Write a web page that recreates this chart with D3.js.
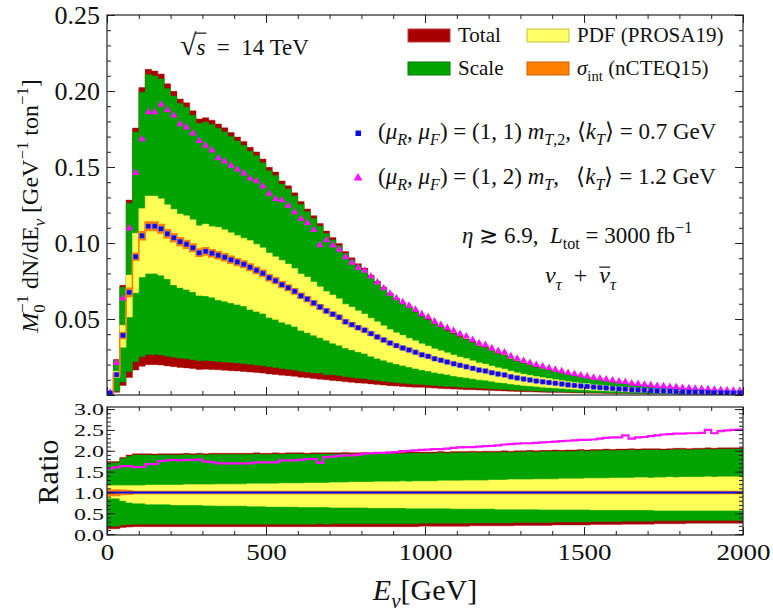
<!DOCTYPE html>
<html><head><meta charset="utf-8">
<script src="https://cdn.jsdelivr.net/npm/d3@7"></script>
<style>
body{margin:0;background:#fff;}
svg text{font-family:'Liberation Serif','Times New Roman',serif !important;fill:#111;}
</style></head>
<body>
<script>
// ---------- DATA ----------
const binEdges = [0,20,40,60,80,100,120,140,160,180,200,220,240,260,280,300,320,340,360,380,
400,420,440,460,480,500,520,540,560,580,600,620,640,660,680,700,720,740,760,780,
800,820,840,860,880,900,920,940,960,980,1000,1020,1040,1060,1080,1100,1120,1140,1160,1180,
1200,1220,1240,1260,1280,1300,1320,1340,1360,1380,1400,1420,1440,1460,1480,1500,1520,1540,1560,1580,
1600,1620,1640,1660,1680,1700,1720,1740,1760,1780,1800,1820,1840,1860,1880,1900,1920,1940,1960,1980,2000];

// central prediction (mu_R,mu_F)=(1,1) m_T,2, <kT>=0.7 GeV  [GeV^-1 ton^-1]
const central = [0.0012,0.0134,0.0392,0.0675,0.0910,0.1048,0.1110,0.1110,0.1094,0.1061,
0.1035,0.1009,0.0991,0.0969,0.0936,0.0945,0.0932,0.0919,0.0906,0.0890,
0.0875,0.0860,0.0840,0.0820,0.0800,0.0772,0.0752,0.0726,0.0706,0.0682,
0.0653,0.0631,0.0605,0.0579,0.0553,0.0531,0.0511,0.0482,0.0463,0.0443,
0.0426,0.0404,0.0382,0.0362,0.0342,0.0325,0.0309,0.0296,0.0281,0.0265,
0.0254,0.0239,0.0228,0.0217,0.0206,0.0195,0.0186,0.0175,0.0164,0.0158,
0.0147,0.0138,0.0132,0.0120,0.0112,0.0105,0.0099,0.0092,0.0087,0.0082,
0.0077,0.0072,0.0067,0.0063,0.0059,0.0056,0.0052,0.0049,0.0046,0.0043,
0.0040,0.0038,0.0035,0.0033,0.0031,0.0029,0.0027,0.0026,0.0024,0.0023,
0.0021,0.0020,0.0019,0.0018,0.0017,0.0016,0.0015,0.0014,0.0013,0.0013];

// ratios to central
const ratioTotUp = [1.74,1.74,1.84,1.90,1.93,1.93,1.93,1.92,1.93,1.93,
1.93,1.93,1.94,1.93,1.94,1.93,1.94,1.94,1.94,1.94,
1.94,1.94,1.94,1.95,1.94,1.94,1.95,1.94,1.95,1.95,
1.95,1.94,1.95,1.95,1.95,1.95,1.95,1.96,1.95,1.95,
1.96,1.95,1.96,1.96,1.96,1.96,1.96,1.97,1.97,1.97,
1.97,1.97,1.98,1.97,1.98,1.98,1.98,1.99,1.98,1.99,
1.99,1.99,2.00,1.99,2.00,2.00,2.01,2.00,2.01,2.01,
2.02,2.01,2.02,2.02,2.03,2.02,2.03,2.03,2.04,2.03,
2.04,2.04,2.05,2.04,2.05,2.05,2.05,2.04,2.05,2.06,
2.06,2.05,2.06,2.06,2.07,2.06,2.07,2.07,2.07,2.07];
const ratioScaleUp = [1.71,1.71,1.81,1.87,1.90,1.90,1.90,1.89,1.90,1.90,
1.90,1.90,1.91,1.90,1.91,1.90,1.91,1.91,1.91,1.91,
1.91,1.91,1.91,1.92,1.91,1.91,1.92,1.91,1.92,1.92,
1.92,1.91,1.92,1.92,1.92,1.92,1.92,1.93,1.92,1.92,
1.93,1.92,1.93,1.93,1.93,1.93,1.93,1.94,1.94,1.94,
1.94,1.94,1.95,1.94,1.95,1.95,1.95,1.96,1.95,1.96,
1.96,1.96,1.97,1.96,1.97,1.97,1.98,1.97,1.98,1.98,
1.99,1.98,1.99,1.99,2.00,1.99,2.00,2.00,2.01,2.00,
2.01,2.01,2.02,2.01,2.02,2.02,2.02,2.01,2.02,2.03,
2.03,2.02,2.03,2.03,2.04,2.03,2.04,2.04,2.04,2.04];
const ratioPdfUp = [1.17,1.17,1.17,1.17,1.17,1.17,1.18,1.18,1.18,1.18,
1.18,1.18,1.19,1.19,1.19,1.19,1.19,1.20,1.20,1.20,
1.20,1.20,1.21,1.21,1.21,1.21,1.21,1.22,1.22,1.22,
1.22,1.23,1.23,1.23,1.23,1.24,1.24,1.24,1.25,1.25,
1.25,1.25,1.26,1.26,1.26,1.26,1.27,1.26,1.27,1.27,
1.27,1.27,1.28,1.28,1.28,1.28,1.29,1.29,1.29,1.29,
1.30,1.30,1.30,1.31,1.31,1.31,1.31,1.32,1.32,1.32,
1.32,1.33,1.33,1.33,1.33,1.34,1.34,1.34,1.34,1.35,
1.35,1.35,1.35,1.36,1.36,1.35,1.36,1.36,1.37,1.36,
1.37,1.37,1.37,1.37,1.38,1.37,1.38,1.38,1.38,1.38];
const ratioIntUp = [1.06,1.06,1.05,1.04,1.025,1.025,1.025,1.025,1.025,1.025,
1.025,1.025,1.025,1.025,1.025,1.025,1.025,1.025,1.025,1.025,
1.025,1.025,1.025,1.025,1.025,1.025,1.025,1.025,1.025,1.025,
1.025,1.025,1.025,1.025,1.025,1.025,1.025,1.025,1.025,1.025,
1.025,1.025,1.025,1.025,1.025,1.025,1.025,1.025,1.025,1.025,
1.025,1.025,1.025,1.025,1.025,1.025,1.025,1.025,1.025,1.025,
1.025,1.025,1.025,1.025,1.025,1.025,1.025,1.025,1.025,1.025,
1.025,1.025,1.025,1.025,1.025,1.025,1.025,1.025,1.025,1.025,
1.025,1.025,1.025,1.025,1.025,1.025,1.025,1.025,1.025,1.025,
1.025,1.025,1.025,1.025,1.025,1.025,1.025,1.025,1.025,1.025];
const ratioIntDn = [0.93,0.93,0.95,0.96,0.975,0.975,0.975,0.975,0.975,0.975,
0.975,0.975,0.975,0.975,0.975,0.975,0.975,0.975,0.975,0.975,
0.975,0.975,0.975,0.975,0.975,0.975,0.975,0.975,0.975,0.975,
0.975,0.975,0.975,0.975,0.975,0.975,0.975,0.975,0.975,0.975,
0.975,0.975,0.975,0.975,0.975,0.975,0.975,0.975,0.975,0.975,
0.975,0.975,0.975,0.975,0.975,0.975,0.975,0.975,0.975,0.975,
0.975,0.975,0.975,0.975,0.975,0.975,0.975,0.975,0.975,0.975,
0.975,0.975,0.975,0.975,0.975,0.975,0.975,0.975,0.975,0.975,
0.975,0.975,0.975,0.975,0.975,0.975,0.975,0.975,0.975,0.975,
0.975,0.975,0.975,0.975,0.975,0.975,0.975,0.975,0.975,0.975];
const ratioPdfDn = [0.86,0.86,0.80,0.76,0.74,0.74,0.72,0.72,0.72,0.72,
0.70,0.70,0.70,0.70,0.70,0.69,0.69,0.68,0.68,0.68,
0.68,0.68,0.67,0.67,0.67,0.66,0.66,0.66,0.66,0.66,
0.65,0.65,0.65,0.65,0.65,0.64,0.64,0.64,0.64,0.64,
0.64,0.63,0.63,0.63,0.63,0.63,0.63,0.62,0.62,0.62,
0.62,0.62,0.62,0.62,0.61,0.61,0.61,0.61,0.61,0.61,
0.61,0.60,0.60,0.60,0.60,0.60,0.60,0.60,0.59,0.59,
0.59,0.59,0.59,0.59,0.59,0.59,0.58,0.58,0.58,0.58,
0.58,0.58,0.58,0.58,0.58,0.58,0.57,0.57,0.57,0.57,
0.57,0.57,0.57,0.57,0.57,0.57,0.57,0.57,0.57,0.57];
const ratioScaleDn = [0.19,0.19,0.22,0.23,0.24,0.24,0.24,0.24,0.24,0.24,
0.24,0.24,0.24,0.24,0.24,0.24,0.24,0.24,0.24,0.24,
0.24,0.24,0.24,0.24,0.24,0.24,0.24,0.24,0.24,0.24,
0.24,0.24,0.24,0.25,0.24,0.25,0.25,0.25,0.25,0.25,
0.25,0.25,0.25,0.25,0.25,0.25,0.25,0.25,0.25,0.26,
0.26,0.26,0.26,0.26,0.26,0.26,0.26,0.27,0.27,0.27,
0.27,0.27,0.27,0.27,0.28,0.28,0.28,0.28,0.28,0.28,
0.29,0.29,0.29,0.29,0.29,0.29,0.30,0.30,0.30,0.30,
0.30,0.31,0.31,0.31,0.31,0.31,0.32,0.32,0.32,0.32,
0.32,0.33,0.33,0.33,0.33,0.33,0.33,0.33,0.33,0.33];
const ratioTotDn = [0.13,0.13,0.16,0.17,0.18,0.18,0.18,0.18,0.18,0.18,
0.18,0.18,0.18,0.18,0.18,0.18,0.18,0.18,0.18,0.18,
0.18,0.18,0.18,0.18,0.18,0.18,0.18,0.18,0.18,0.18,
0.18,0.18,0.18,0.18,0.18,0.18,0.18,0.18,0.18,0.18,
0.18,0.18,0.18,0.18,0.18,0.18,0.18,0.18,0.18,0.19,
0.19,0.19,0.19,0.19,0.19,0.19,0.19,0.20,0.20,0.20,
0.20,0.20,0.20,0.20,0.21,0.21,0.21,0.21,0.21,0.21,
0.22,0.22,0.22,0.22,0.22,0.22,0.23,0.23,0.23,0.23,
0.23,0.24,0.24,0.24,0.24,0.24,0.25,0.25,0.25,0.25,
0.25,0.26,0.26,0.26,0.26,0.26,0.26,0.26,0.26,0.26];
// (mu_R,mu_F)=(1,2) m_T, <kT>=1.2 GeV relative to central
const ratioMu12 = [1.58,1.60,1.63,1.63,1.61,1.61,1.68,1.68,1.75,1.77,
1.78,1.77,1.78,1.78,1.79,1.74,1.73,1.70,1.70,1.70,
1.70,1.70,1.70,1.72,1.72,1.72,1.72,1.77,1.77,1.77,
1.78,1.80,1.80,1.71,1.85,1.86,1.88,1.89,1.89,1.90,
1.93,1.94,1.95,1.95,1.96,1.97,1.99,2.00,2.01,2.02,
2.03,2.04,2.04,2.05,2.07,2.08,2.09,2.09,2.10,2.11,
2.12,2.13,2.15,2.16,2.17,2.18,2.18,2.19,2.20,2.21,
2.22,2.23,2.24,2.25,2.26,2.26,2.27,2.29,2.31,2.32,
2.32,2.37,2.29,2.32,2.33,2.35,2.37,2.39,2.40,2.41,
2.41,2.42,2.42,2.43,2.50,2.42,2.47,2.49,2.50,2.51];

const mainYTicks = [0.05,0.10,0.15,0.20,0.25];
const ratioYTicks = [0,0.5,1,1.5,2,2.5,3];
const xTicks = [0,500,1000,1500,2000];

// ---------- LAYOUT ----------
const W=773,H=615;
const L=107,R=743,T1=15,B1=395,T2=407,B2=535;
const x = d3.scaleLinear([0,2000],[L,R]);
const yM = d3.scaleLinear([0,0.25],[B1,T1]);
const yR = d3.scaleLinear([-0.02,3.05],[B2,T2]);
const FONT = "'Liberation Serif','Times New Roman',serif";

const C = {red:'#A80000', green:'#00A300', yellow:'#FFFF55', orange:'#FF8000', blue:'#0A0AF0', mag:'#FF10FF'};

const svg = d3.select('body').append('svg').attr('width',W).attr('height',H);
const defs = svg.append('defs');
defs.append('clipPath').attr('id','cm').append('rect').attr('x',L).attr('y',T1).attr('width',R-L).attr('height',B1-T1);
defs.append('clipPath').attr('id','cr').append('rect').attr('x',L).attr('y',T2).attr('width',R-L).attr('height',B2-T2);

const pts = binEdges.map((e,i)=>({e, i:Math.min(i,central.length-1)}));

function band(g, ys, lo, hi, scaleFn, fill, stroke, sw){
  const a = d3.area().curve(d3.curveStepAfter)
    .x(d=>x(d.e)).y0(d=>ys(scaleFn(d.i)*lo[d.i])).y1(d=>ys(scaleFn(d.i)*hi[d.i]));
  const p = g.append('path').datum(pts).attr('d',a).attr('fill',fill);
  if(stroke) p.attr('stroke',stroke).attr('stroke-width',sw).attr('stroke-linejoin','miter');
  else p.attr('stroke',fill).attr('stroke-width',0.4);
}

// ---------- MAIN PANEL ----------
const gm = svg.append('g').attr('clip-path','url(#cm)');
const cf = i=>central[i];
band(gm,yM,ratioTotDn,ratioTotUp,cf,C.red);
band(gm,yM,ratioScaleDn,ratioScaleUp,cf,C.green);
band(gm,yM,ratioPdfDn,ratioPdfUp,cf,C.yellow);
band(gm,yM,ratioIntDn,ratioIntUp,cf,C.orange,C.orange,1.6);

const tri = d3.symbol().type(d3.symbolTriangle).size(24);
gm.selectAll('path.tri').data(central).join('path').attr('class','tri')
  .attr('d',tri).attr('fill',C.mag)
  .attr('transform',(d,i)=>`translate(${x((binEdges[i]+binEdges[i+1])/2)},${yM(d*ratioMu12[i])+0.5})`);
gm.selectAll('rect.sq').data(central).join('rect').attr('class','sq')
  .attr('x',(d,i)=>x((binEdges[i]+binEdges[i+1])/2)-2.4).attr('y',d=>yM(d)-2.4)
  .attr('width',4.8).attr('height',4.8).attr('fill',C.blue).attr('stroke','#5a6cff').attr('stroke-width',0.4);

// ---------- RATIO PANEL ----------
const gr = svg.append('g').attr('clip-path','url(#cr)');
const one = i=>1;
band(gr,yR,ratioTotDn,ratioTotUp,one,C.red);
band(gr,yR,ratioScaleDn,ratioScaleUp,one,C.green);
band(gr,yR,ratioPdfDn,ratioPdfUp,one,C.yellow);
band(gr,yR,ratioIntDn,ratioIntUp,one,C.orange,C.orange,1.6);
gr.append('path').datum(pts).attr('fill','none').attr('stroke',C.blue).attr('stroke-width',2)
  .attr('d',d3.line().curve(d3.curveStepAfter).x(d=>x(d.e)).y(d=>yR(1)));
gr.append('path').datum(pts).attr('fill','none').attr('stroke',C.mag).attr('stroke-width',2.2)
  .attr('d',d3.line().curve(d3.curveStepAfter).x(d=>x(d.e)).y(d=>yR(ratioMu12[d.i])));

// ---------- FRAMES & TICKS ----------
function tickAxis(axisFn, scale, vals, len, tx, ty){
  const a = axisFn(scale).tickValues(vals).tickSizeInner(-len).tickSizeOuter(0).tickFormat('');
  const g = svg.append('g').attr('transform',`translate(${tx},${ty})`).call(a);
  g.select('.domain').remove();
  g.selectAll('line').attr('stroke','#222').attr('stroke-width',1);
}
const xMinor = d3.range(0,2001,100), xMajor = xTicks;
const yMinor = d3.range(0,0.2501,0.01), yMajor = [0].concat(mainYTicks);
const rMinor = d3.range(0,3.001,0.1), rMajor = ratioYTicks;
[[T1,B1,yM,yMinor,yMajor],[T2,B2,yR,rMinor,rMajor]].forEach(([t,b,ys,mi,ma],k)=>{
  tickAxis(d3.axisBottom,x,xMinor,4,0,b);
  tickAxis(d3.axisBottom,x,xMajor,8,0,b);
  tickAxis(d3.axisTop,x,xMinor,4,0,t);
  tickAxis(d3.axisTop,x,xMajor,8,0,t);
  tickAxis(d3.axisLeft,ys,mi,4,L,0);
  tickAxis(d3.axisLeft,ys,ma,8,L,0);
  tickAxis(d3.axisRight,ys,mi,4,R,0);
  tickAxis(d3.axisRight,ys,ma,8,R,0);
  svg.append('rect').attr('x',L).attr('y',t).attr('width',R-L).attr('height',b-t)
    .attr('fill','none').attr('stroke','#222').attr('stroke-width',1.2);
});

// tick labels
function styleLabels(g, size){
  g.attr('font-family',null).attr('font-size',null);
  g.select('.domain').remove();
  g.selectAll('text').style('font-family',FONT).style('font-size',size+'px').style('font-weight','normal').attr('fill','#111');
}
const gyl = svg.append('g').attr('transform',`translate(${L},0)`)
  .call(d3.axisLeft(yM).tickValues(mainYTicks).tickSize(0).tickPadding(7).tickFormat(d3.format('.2f')));
styleLabels(gyl,26);

const gryl = svg.append('g').attr('transform',`translate(${L},0)`)
  .call(d3.axisLeft(yR).tickValues(ratioYTicks).tickSize(0).tickPadding(3).tickFormat(d3.format('.1f')));
styleLabels(gryl,24);
gryl.selectAll('text').attr('dy','0.34em').attr('transform','scale(1,0.72)');

const gxl = svg.append('g').attr('transform',`translate(0,560)`)
  .call(d3.axisBottom(x).tickValues(xTicks).tickSize(0).tickPadding(0).tickFormat(d3.format('d')));
styleLabels(gxl,27);
gxl.selectAll('text').attr('y',0).attr('dy',0).attr('transform','scale(1,0.86)');

// ---------- RICH TEXT ----------
function rich(parent, px, py, size, parts, opts={}){
  const t = parent.append('text').attr('x',px).attr('y',py).style('font-size',size+'px')
    .style('white-space','pre').attr('xml:space','preserve')
    .attr('text-anchor',opts.anchor||'start');
  if(opts.rotate) t.attr('transform',`rotate(${opts.rotate},${px},${py})`);
  let shift=0; const overs=[];
  parts.forEach(p=>{
    const [s,o] = typeof p==='string' ? [p,{}] : p;
    const target = o.sub ? size*0.28 : o.sup ? -size*0.42 : 0;
    const ts = t.append('tspan').text(s).attr('dy',target-shift);
    shift = target;
    if(o.sub||o.sup) ts.style('font-size',size*(o.sz||0.7)+'px');
    if(o.big) ts.style('font-size',size*o.big+'px');
    if(o.i) ts.attr('font-style','italic');
    if(o.dx) ts.attr('dx',o.dx);
    if(o.over) overs.push([ts,o.over]);
  });
  overs.forEach(([ts,h])=>{
    const bb = ts.node().getBBox();
    parent.append('line').attr('x1',bb.x+(h.x0||0)).attr('x2',bb.x+bb.width+(h.x1||0))
      .attr('y1',py-size*h.h).attr('y2',py-size*h.h).attr('stroke','#111').attr('stroke-width',h.w||1);
  });
  return t;
}

// axis titles
rich(svg, 38, 206, 24, [['M',{i:1}],['0',{sub:1}],['−1',{sup:1,dx:-8.4}],' dN/dE',['ν',{sub:1,i:1}],' [GeV',['−1',{sup:1}],' ton',['−1',{sup:1}],']'], {anchor:'middle',rotate:-90});
rich(svg, 58, 472, 30, ['Ratio'], {anchor:'middle',rotate:-90});
rich(svg, 425, 600, 30, [['E',{i:1}],['ν',{sub:1,i:1}],'[GeV]'], {anchor:'middle'});

// annotations
rich(svg, 180, 55, 23, [['√',{big:1.3}],['s',{i:1,over:{h:0.95,x0:-1,x1:1,w:1.2}}],'  =  14 TeV']);
rich(svg, 462, 243, 23, [['η',{i:1}],' ≳ 6.9,  ',['L',{i:1}],['tot',{sub:1}],' = 3000 fb',['−1',{sup:1}]]);
rich(svg, 545, 283, 24, [['ν',{i:1}],['τ',{sub:1,i:1}],'  +  ',['ν',{i:1,over:{h:0.66,x0:0,x1:0,w:1.2}}],['τ',{sub:1,i:1}]]);

// legend
const lg = svg.append('g');
const legItems = [
  {x:408,y:29,c:C.red,s:'#c04040',label:['Total']},
  {x:527,y:29,c:'#FFFF66',s:'#c8c040',label:['PDF (PROSA19)']},
  {x:408,y:62,c:C.green,s:'#007a00',label:['Scale']},
  {x:527,y:62,c:C.orange,s:'#c86000',label:[['σ',{i:1}],['int',{sub:1}],' (nCTEQ15)']}
];
legItems.forEach(d=>{
  lg.append('rect').attr('x',d.x).attr('y',d.y).attr('width',42).attr('height',13)
    .attr('fill',d.c).attr('stroke',d.s).attr('stroke-width',1);
  rich(lg, d.x+50, d.y+13, 21, d.label);
});
lg.append('rect').attr('x',355.5).attr('y',130.5).attr('width',5.5).attr('height',5.5).attr('fill',C.blue);
lg.append('path').attr('d',d3.symbol().type(d3.symbolTriangle).size(34)).attr('fill',C.mag)
  .attr('transform','translate(358,178)');
rich(lg, 378, 139, 23, ['(',['μ',{i:1}],['R',{sub:1,i:1}],', ',['μ',{i:1}],['F',{sub:1,i:1}],') = (1, 1) ',['m',{i:1}],['T',{sub:1,i:1}],[',2',{sub:1}],', ⟨',['k',{i:1}],['T',{sub:1,i:1}],'⟩ = 0.7 GeV']);
rich(lg, 378, 184, 23, ['(',['μ',{i:1}],['R',{sub:1,i:1}],', ',['μ',{i:1}],['F',{sub:1,i:1}],') = (1, 2) ',['m',{i:1}],['T',{sub:1,i:1}],',   ⟨',['k',{i:1}],['T',{sub:1,i:1}],'⟩ = 1.2 GeV']);
</script>
</body></html>
